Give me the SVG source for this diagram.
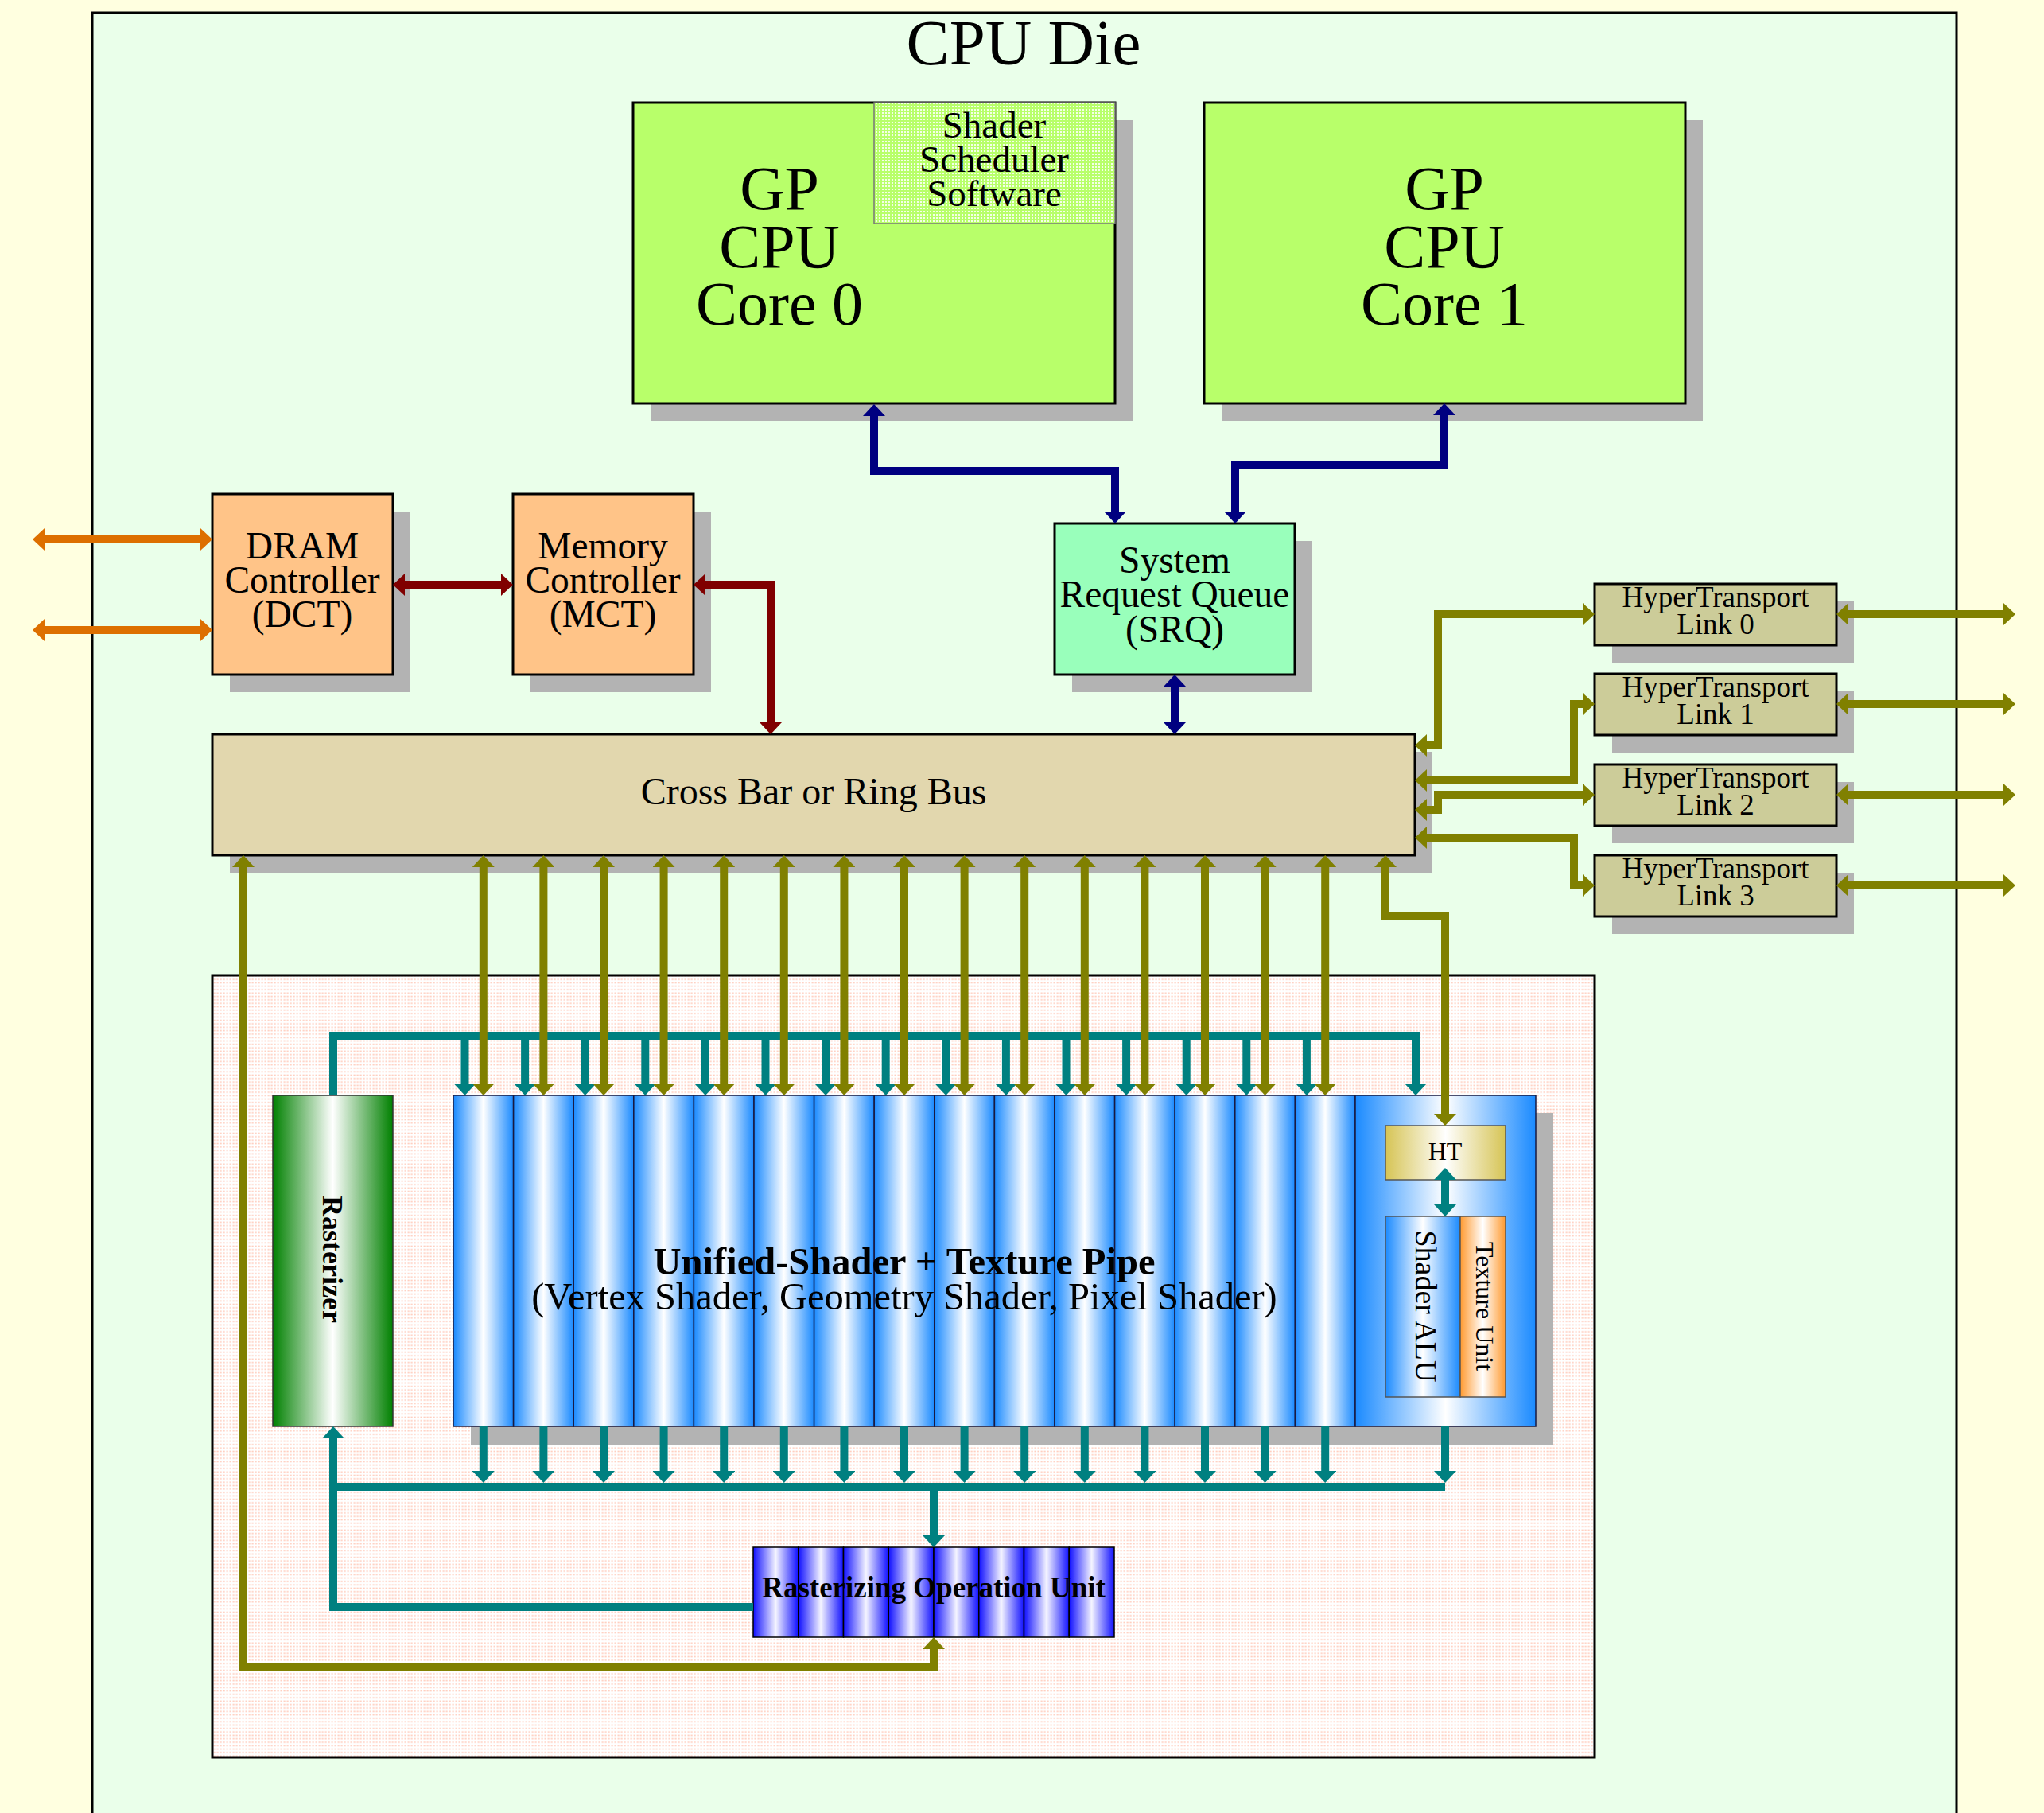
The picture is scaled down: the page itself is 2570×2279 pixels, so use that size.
<svg xmlns="http://www.w3.org/2000/svg" width="2570" height="2279" viewBox="0 0 2570 2279">
<style>
text{font-family:"Liberation Serif","Times New Roman",serif;fill:#000;text-anchor:middle}
.box{stroke:#000;stroke-width:3}
.sh{fill:#b3b3b3}
.col{fill:url(#gCol);stroke:#1a1a40;stroke-width:1.5}
.rcol{fill:url(#gRop);stroke:#000;stroke-width:1.5}
.ol{fill:none;stroke:#808000;stroke-width:10;marker-start:url(#aO);marker-end:url(#aO)}
.te{fill:none;stroke:#008080;stroke-width:10;marker-end:url(#aT)}
.tl{fill:none;stroke:#008080;stroke-width:10}
.nv{fill:none;stroke:#000080;stroke-width:10;marker-start:url(#aN);marker-end:url(#aN)}
.rd{fill:none;stroke:#800000;stroke-width:10;marker-start:url(#aR);marker-end:url(#aR)}
.or{fill:none;stroke:#dd6f00;stroke-width:10;marker-start:url(#aOr);marker-end:url(#aOr)}
</style>
<defs>
<marker id="aO" markerUnits="userSpaceOnUse" viewBox="0 0 15 28" markerWidth="15" markerHeight="28" refX="0" refY="14" orient="auto-start-reverse"><path d="M0,0 L15,14 L0,28 Z" fill="#808000"/></marker>
<marker id="aT" markerUnits="userSpaceOnUse" viewBox="0 0 15 28" markerWidth="15" markerHeight="28" refX="0" refY="14" orient="auto-start-reverse"><path d="M0,0 L15,14 L0,28 Z" fill="#008080"/></marker>
<marker id="aN" markerUnits="userSpaceOnUse" viewBox="0 0 15 28" markerWidth="15" markerHeight="28" refX="0" refY="14" orient="auto-start-reverse"><path d="M0,0 L15,14 L0,28 Z" fill="#000080"/></marker>
<marker id="aR" markerUnits="userSpaceOnUse" viewBox="0 0 15 28" markerWidth="15" markerHeight="28" refX="0" refY="14" orient="auto-start-reverse"><path d="M0,0 L15,14 L0,28 Z" fill="#800000"/></marker>
<marker id="aOr" markerUnits="userSpaceOnUse" viewBox="0 0 15 28" markerWidth="15" markerHeight="28" refX="0" refY="14" orient="auto-start-reverse"><path d="M0,0 L15,14 L0,28 Z" fill="#dd6f00"/></marker>
<linearGradient id="gCol"><stop offset="0" stop-color="#1a8aff"/><stop offset="0.5" stop-color="#ffffff"/><stop offset="1" stop-color="#1a8aff"/></linearGradient>
<linearGradient id="gRop"><stop offset="0" stop-color="#1010ff"/><stop offset="0.5" stop-color="#f4f4ff"/><stop offset="1" stop-color="#1010ff"/></linearGradient>
<linearGradient id="gGrn"><stop offset="0" stop-color="#008000"/><stop offset="0.5" stop-color="#ffffff"/><stop offset="1" stop-color="#008000"/></linearGradient>
<linearGradient id="gHT"><stop offset="0" stop-color="#d6c455"/><stop offset="0.5" stop-color="#ffffff"/><stop offset="1" stop-color="#d6c455"/></linearGradient>
<linearGradient id="gTex"><stop offset="0" stop-color="#ff9a30"/><stop offset="0.5" stop-color="#ffffff"/><stop offset="1" stop-color="#ff9a30"/></linearGradient>
<pattern id="pDot" patternUnits="userSpaceOnUse" width="4" height="4"><rect width="4" height="4" fill="#b8ff6a"/><rect x="1" y="1" width="2" height="2" fill="#f4ffe8"/></pattern>
<pattern id="pPink" patternUnits="userSpaceOnUse" width="4" height="4.3"><rect width="4" height="4.3" fill="#ffffff"/><rect x="0.5" y="0.5" width="2.2" height="1.6" fill="#ffcfc0"/></pattern>
</defs>
<rect width="2570" height="2279" fill="#ffffe0"/>
<g id="die"><rect x="116" y="16" width="2344" height="2400" fill="#eaffea" stroke="#000" stroke-width="3"/><text x="1287" y="81" font-size="81">CPU Die</text></g>
<g id="gpu-region"><rect x="267" y="1226" width="1738" height="983" fill="url(#pPink)" stroke="#000" stroke-width="3"/></g>
<g id="core0"><rect class="sh" x="818" y="151" width="606" height="378"/><rect class="box" x="796" y="129" width="606" height="378" fill="#b8ff6a"/>
<text font-size="78"><tspan x="980" y="263">GP</tspan><tspan x="980" y="336">CPU</tspan><tspan x="980" y="408">Core 0</tspan></text></g>
<g id="shader-scheduler"><rect x="1099" y="129" width="303" height="152" fill="url(#pDot)" stroke="#777" stroke-width="1.5"/>
<text font-size="47"><tspan x="1250" y="173">Shader</tspan><tspan x="1250" y="216">Scheduler</tspan><tspan x="1250" y="259">Software</tspan></text></g>
<g id="core1"><rect class="sh" x="1536" y="151" width="605" height="378"/><rect class="box" x="1514" y="129" width="605" height="378" fill="#b8ff6a"/>
<text font-size="78"><tspan x="1816" y="263">GP</tspan><tspan x="1816" y="336">CPU</tspan><tspan x="1816" y="408">Core 1</tspan></text></g>
<g id="dram"><rect class="sh" x="289" y="643" width="227" height="227"/><rect class="box" x="267" y="621" width="227" height="227" fill="#ffc488"/>
<text font-size="47.5"><tspan x="380" y="702">DRAM</tspan><tspan x="380" y="745">Controller</tspan><tspan x="380" y="788">(DCT)</tspan></text></g>
<g id="mct"><rect class="sh" x="667" y="643" width="227" height="227"/><rect class="box" x="645" y="621" width="227" height="227" fill="#ffc488"/>
<text font-size="47.5"><tspan x="758" y="702">Memory</tspan><tspan x="758" y="745">Controller</tspan><tspan x="758" y="788">(MCT)</tspan></text></g>
<g id="srq"><rect class="sh" x="1348" y="680" width="302" height="190"/><rect class="box" x="1326" y="658" width="302" height="190" fill="#99ffbb"/>
<text font-size="47.5"><tspan x="1477" y="720">System</tspan><tspan x="1477" y="763">Request Queue</tspan><tspan x="1477" y="807">(SRQ)</tspan></text></g>
<g id="crossbar"><rect class="sh" x="289" y="945" width="1512" height="152"/><rect class="box" x="267" y="923" width="1512" height="152" fill="#e2d7ae"/>
<text x="1023" y="1011" font-size="48">Cross Bar or Ring Bus</text></g>
<g id="ht0"><rect class="sh" x="2027" y="756" width="304" height="77"/><rect class="box" x="2005" y="734" width="304" height="77" fill="#cccc99"/><text font-size="37"><tspan x="2157" y="763">HyperTransport</tspan><tspan x="2157" y="797">Link 0</tspan></text></g>
<g id="ht1"><rect class="sh" x="2027" y="869" width="304" height="77"/><rect class="box" x="2005" y="847" width="304" height="77" fill="#cccc99"/><text font-size="37"><tspan x="2157" y="876">HyperTransport</tspan><tspan x="2157" y="910">Link 1</tspan></text></g>
<g id="ht2"><rect class="sh" x="2027" y="983" width="304" height="77"/><rect class="box" x="2005" y="961" width="304" height="77" fill="#cccc99"/><text font-size="37"><tspan x="2157" y="990">HyperTransport</tspan><tspan x="2157" y="1024">Link 2</tspan></text></g>
<g id="ht3"><rect class="sh" x="2027" y="1097" width="304" height="77"/><rect class="box" x="2005" y="1075" width="304" height="77" fill="#cccc99"/><text font-size="37"><tspan x="2157" y="1104">HyperTransport</tspan><tspan x="2157" y="1138">Link 3</tspan></text></g>
<g id="rasterizer"><rect x="343" y="1377" width="151" height="416" fill="url(#gGrn)" stroke="#333" stroke-width="1.5"/>
<text transform="translate(418,1583) rotate(90)" x="0" y="12" font-size="36" font-weight="bold">Rasterizer</text></g>
<g id="shader-pipe"><rect class="sh" x="592" y="1399" width="1361" height="417"/>
<rect class="col" x="570" y="1377" width="75.6" height="416"/><rect class="col" x="645.6" y="1377" width="75.6" height="416"/><rect class="col" x="721.2" y="1377" width="75.6" height="416"/><rect class="col" x="796.8" y="1377" width="75.6" height="416"/><rect class="col" x="872.4" y="1377" width="75.6" height="416"/><rect class="col" x="948" y="1377" width="75.6" height="416"/><rect class="col" x="1023.6" y="1377" width="75.6" height="416"/><rect class="col" x="1099.2" y="1377" width="75.6" height="416"/><rect class="col" x="1174.8" y="1377" width="75.6" height="416"/><rect class="col" x="1250.4" y="1377" width="75.6" height="416"/><rect class="col" x="1326" y="1377" width="75.6" height="416"/><rect class="col" x="1401.6" y="1377" width="75.6" height="416"/><rect class="col" x="1477.2" y="1377" width="75.6" height="416"/><rect class="col" x="1552.8" y="1377" width="75.6" height="416"/><rect class="col" x="1628.4" y="1377" width="75.6" height="416"/>
<rect class="col" x="1704" y="1377" width="227" height="416"/>
<text x="1137" y="1602" font-size="48.5" font-weight="bold">Unified-Shader + Texture Pipe</text>
<text x="1137" y="1646" font-size="48.5">(Vertex Shader, Geometry Shader, Pixel Shader)</text></g>
<g id="ht-unit"><rect x="1742" y="1415" width="151" height="68" fill="url(#gHT)" stroke="#555" stroke-width="1.5"/><text x="1817" y="1458" font-size="32">HT</text></g>
<g id="shader-alu"><rect x="1742" y="1529" width="94" height="227" fill="url(#gCol)" stroke="#555" stroke-width="1.5"/><text transform="translate(1792,1642) rotate(90)" x="0" y="12" font-size="38">Shader ALU</text></g>
<g id="texture-unit"><rect x="1836" y="1529" width="57" height="227" fill="url(#gTex)" stroke="#555" stroke-width="1.5"/><text transform="translate(1866,1642) rotate(90)" x="0" y="10" font-size="32">Texture Unit</text></g>
<g id="rop"><rect class="rcol" x="947" y="1945" width="56.75" height="113"/><rect class="rcol" x="1003.75" y="1945" width="56.75" height="113"/><rect class="rcol" x="1060.5" y="1945" width="56.75" height="113"/><rect class="rcol" x="1117.25" y="1945" width="56.75" height="113"/><rect class="rcol" x="1174" y="1945" width="56.75" height="113"/><rect class="rcol" x="1230.75" y="1945" width="56.75" height="113"/><rect class="rcol" x="1287.5" y="1945" width="56.75" height="113"/><rect class="rcol" x="1344.25" y="1945" width="56.75" height="113"/>
<text x="1174" y="2008" font-size="37" font-weight="bold">Rasterizing Operation Unit</text></g>
<g id="connectors">
<path class="or" d="M56,678 H252"/><path class="or" d="M56,792 H252"/>
<path class="rd" d="M509,735 H630"/><path class="rd" d="M887,735 H969 V908"/>
<path class="nv" d="M1099,523 V592 H1402 V643"/><path class="nv" d="M1816,522 V584 H1553 V643"/><path class="nv" d="M1477,863 V908"/>
<path class="ol" d="M1794,937 H1808 V772 H1990"/><path class="ol" d="M1794,981 H1979 V885 H1990"/><path class="ol" d="M1794,1018 H1808 V999 H1990"/><path class="ol" d="M1794,1053 H1979 V1113 H1990"/>
<path class="ol" d="M2324,772 H2519"/><path class="ol" d="M2324,885 H2519"/><path class="ol" d="M2324,999 H2519"/><path class="ol" d="M2324,1113 H2519"/>
<path class="tl" d="M419,1377 V1302 H1780 V1362" marker-end="url(#aT)"/>
<path class="te" d="M584.5,1302 V1362"/><path class="te" d="M660.1,1302 V1362"/><path class="te" d="M735.7,1302 V1362"/><path class="te" d="M811.3,1302 V1362"/><path class="te" d="M886.9,1302 V1362"/><path class="te" d="M962.5,1302 V1362"/><path class="te" d="M1038.1,1302 V1362"/><path class="te" d="M1113.7,1302 V1362"/><path class="te" d="M1189.3,1302 V1362"/><path class="te" d="M1264.9,1302 V1362"/><path class="te" d="M1340.5,1302 V1362"/><path class="te" d="M1416.1,1302 V1362"/><path class="te" d="M1491.7,1302 V1362"/><path class="te" d="M1567.3,1302 V1362"/><path class="te" d="M1642.9,1302 V1362"/>
<path class="te" d="M1817,1483 V1514" marker-start="url(#aT)"/>
<path class="te" d="M607.8,1793 V1849"/><path class="te" d="M683.4,1793 V1849"/><path class="te" d="M759,1793 V1849"/><path class="te" d="M834.6,1793 V1849"/><path class="te" d="M910.2,1793 V1849"/><path class="te" d="M985.8,1793 V1849"/><path class="te" d="M1061.4,1793 V1849"/><path class="te" d="M1137,1793 V1849"/><path class="te" d="M1212.6,1793 V1849"/><path class="te" d="M1288.2,1793 V1849"/><path class="te" d="M1363.8,1793 V1849"/><path class="te" d="M1439.4,1793 V1849"/><path class="te" d="M1515,1793 V1849"/><path class="te" d="M1590.6,1793 V1849"/><path class="te" d="M1666.2,1793 V1849"/><path class="te" d="M1817,1793 V1849"/>
<path class="tl" d="M419,1869 H1817"/>
<path class="te" d="M1174,1869 V1930"/>
<path class="te" d="M947,2020 H419 V1808"/>
<path class="ol" d="M607.8,1090 V1362"/><path class="ol" d="M683.4,1090 V1362"/><path class="ol" d="M759,1090 V1362"/><path class="ol" d="M834.6,1090 V1362"/><path class="ol" d="M910.2,1090 V1362"/><path class="ol" d="M985.8,1090 V1362"/><path class="ol" d="M1061.4,1090 V1362"/><path class="ol" d="M1137,1090 V1362"/><path class="ol" d="M1212.6,1090 V1362"/><path class="ol" d="M1288.2,1090 V1362"/><path class="ol" d="M1363.8,1090 V1362"/><path class="ol" d="M1439.4,1090 V1362"/><path class="ol" d="M1515,1090 V1362"/><path class="ol" d="M1590.6,1090 V1362"/><path class="ol" d="M1666.2,1090 V1362"/>
<path class="ol" d="M1742,1090 V1151 H1817 V1400"/>
<path class="ol" d="M306,1090 V2096 H1174 V2073"/>
</g>
</svg>
